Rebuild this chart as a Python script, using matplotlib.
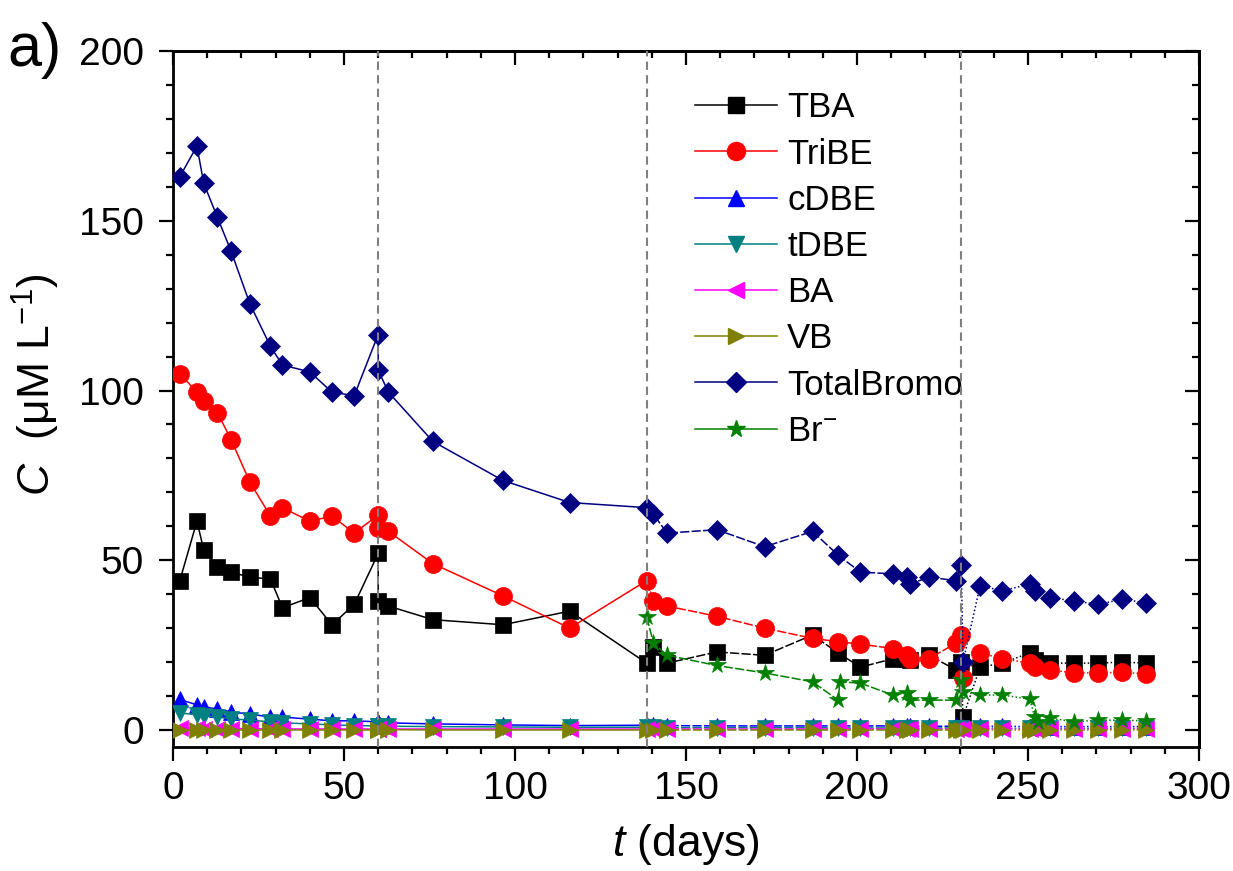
import matplotlib
matplotlib.use('Agg')
import matplotlib.pyplot as plt
from matplotlib.lines import Line2D
from matplotlib.ticker import MultipleLocator

plt.rcParams['font.family'] = ['Liberation Sans', 'DejaVu Sans']
plt.rcParams['mathtext.fontset'] = 'custom'
plt.rcParams['mathtext.rm'] = 'Liberation Sans'
plt.rcParams['mathtext.it'] = 'Liberation Sans:italic'
plt.rcParams['mathtext.bf'] = 'Liberation Sans:bold'

# ---------------- data ----------------
t_main = [2, 7, 9, 13, 17, 22.5, 28.5, 32, 40, 46.5,
          53, 60, 60, 63, 76, 96.5, 116, 138.5, 140.5, 144.5,
          159, 173, 187, 194.5, 201, 210.5, 214.5, 215.5, 221, 229,
          230.5, 231, 236, 242.5, 250.5, 252, 256.5, 263.5, 270.5, 277.5,
          284.5]

tba = [44, 61.5, 53, 48, 46.5, 45, 44.5, 36, 39, 31,
       37, 52, 38, 36.5, 32.5, 31, 35, 19.7, 24.5, 19.7,
       23, 22, 28, 22.7, 18.5, 21, 21, 20.5, 22, 17.7,
       20, 3.8, 18.5, 19.7, 22.7, 20.6, 19.7, 19.7, 19.7, 20,
       19.7]

tribe = [105, 99.5, 97, 93.5, 85.5, 73, 63, 65.5, 61.5, 63,
         58, 63.3, 59.5, 58.5, 49, 39.5, 30, 44, 38, 36.5,
         33.5, 30, 27, 26, 25.3, 24, 22, 21, 21, 25.6,
         28, 15.3, 22.7, 21, 19.7, 18.5, 17.7, 16.8, 16.8, 17,
         16.5]

cdbe = [9.0, 7.4, 6.8, 6.2, 5.3, 4.7, 3.8, 3.8, 3.2, 2.7,
        2.7, 2.4, 2.4, 2.1, 1.8, 1.5, 1.3, 1.4, 1.4, 1.3,
        1.2, 1.2, 1.2, 1.2, 1.2, 1.2, 1.2, 1.1, 1.1, 1.1,
        1.1, 0.8, 1.1, 1.1, 1.0, 1.0, 1.0, 1.0, 1.0, 1.0,
        1.0]

tdbe = [5.0, 4.5, 4.2, 3.8, 3.3, 2.9, 2.4, 2.1, 1.8, 1.5,
        1.3, 1.2, 1.1, 1.1, 1.0, 0.9, 0.8, 0.8, 0.8, 0.7,
        0.7, 0.7, 0.7, 0.6, 0.6, 0.6, 0.6, 0.6, 0.6, 0.6,
        0.6, 0.4, 0.6, 0.5, 0.5, 0.5, 0.5, 0.5, 0.5, 0.5,
        0.5]

ba = [0.5, 0.5, 0.4, 0.4, 0.4, 0.4, 0.3, 0.3, 0.3, 0.3,
      0.3, 0.3, 0.3, 0.3, 0.3, 0.3, 0.3, 0.3, 0.3, 0.3,
      0.3, 0.3, 0.3, 0.3, 0.3, 0.3, 0.3, 0.3, 0.3, 0.3,
      0.3, 0.2, 0.3, 0.3, 0.3, 0.3, 0.3, 0.3, 0.3, 0.3,
      0.3]

vb = [0.1, 0.1, 0.1, 0.1, 0.1, 0.1, 0.1, 0.1, 0.1, 0.1,
      0.1, 0.1, 0.1, 0.1, 0.0, 0.0, 0.0, 0.0, 0.0, 0.0,
      0.0, 0.0, 0.0, 0.0, 0.0, 0.0, 0.0, 0.0, 0.0, 0.0,
      0.0, 0.0, 0.0, 0.0, 0.0, 0.0, 0.0, 0.0, 0.0, 0.0,
      0.0]

total_bromo = [163, 172, 161, 151, 141, 125.5, 113, 107.5, 105.5, 99.5,
               98.5, 116.5, 106, 99.5, 85, 73.5, 67, 65.5, 63.5, 58,
               59, 54, 58.5, 51.5, 46.5, 46, 45, 43, 45, 44,
               48.5, 20, 42.5, 41, 43, 41, 39, 38, 37, 38.5,
               37.5]

t_br = [138.5, 140.5, 144.5, 159, 173, 187, 194.5, 195, 201, 210.5,
        214.5, 215.5, 221, 229, 230.5, 231, 236, 242.5, 250.5, 252,
        253, 256.5, 263.5, 270.5, 277.5, 284.5]
br = [33.3, 25.6, 22, 19, 16.8, 14.2, 8.8, 14.2, 13.8, 10.3,
      11, 8.8, 8.8, 8.8, 14.7, 11.2, 10.3, 10.3, 9.1, 3.8,
      2.4, 3.5, 2.4, 2.9, 2.9, 2.7]

phase_days = [60, 138.5, 230.5]
labels = ['TBA', 'TriBE', 'cDBE', 'tDBE', 'BA', 'VB', 'TotalBromo', r'Br$^{-}$']
colors = ['#000000', '#ff0000', '#0000ff', '#008080', '#ff00ff', '#808000', '#000080', '#008000']
markers = ['s', 'o', '^', 'v', '<', '>', 'D', '*']
msizes = [11, 13, 11, 11, 11, 11, 10.5, 13]
series = [(t_main, tba), (t_main, tribe), (t_main, cdbe), (t_main, tdbe),
          (t_main, ba), (t_main, vb), (t_main, total_bromo), (t_br, br)]

phase_styles = ['-', '-', (0, (6, 1.5)), (0, (1, 1.5))]

# ---------------- figure ----------------
fig = plt.figure(figsize=(12.33, 8.71), dpi=100)
ax = fig.add_axes([0.1403, 0.1424, 0.8321, 0.7990])


def draw_series(t, v, color, marker, ms, z):
    n = len(t)
    seg_phase = [sum(1 for b in phase_days if b < t[i + 1]) for i in range(n - 1)]
    i = 0
    while i < n - 1:
        j = i
        while j + 1 < n - 1 and seg_phase[j + 1] == seg_phase[i]:
            j += 1
        ax.plot(t[i:j + 2], v[i:j + 2], color=color, lw=1.1,
                ls=phase_styles[seg_phase[i]], zorder=z)
        i = j + 1
    ax.plot(t, v, ls='none', marker=marker, ms=ms, color=color,
            mec=color, mew=0.5, zorder=z + 0.5)


for k, ((t, v), c, m, ms) in enumerate(zip(series, colors, markers, msizes)):
    draw_series(t, v, c, m, ms, 2 + k)

for d in phase_days:
    ax.axvline(d, color='#808080', lw=1.5, ls=(0, (4, 2.5)), zorder=20)

ax.set_xlim(0, 300)
ax.set_ylim(-5, 200)
ax.xaxis.set_major_locator(MultipleLocator(50))
ax.xaxis.set_minor_locator(MultipleLocator(10))
ax.yaxis.set_major_locator(MultipleLocator(50))
ax.yaxis.set_minor_locator(MultipleLocator(10))

for s in ax.spines.values():
    s.set_linewidth(2.0)

ax.tick_params(which='both', direction='out', top=False, right=False, width=1.6)
ax.tick_params(which='major', length=10, labelsize=28)
ax.tick_params(which='minor', length=5)
ax.tick_params(axis='x', which='major', pad=7)
ax.tick_params(axis='y', which='major', pad=11)

# mirrored inward ticks on top/right
sec_x = ax.secondary_xaxis('top')
sec_x.xaxis.set_major_locator(MultipleLocator(50))
sec_x.xaxis.set_minor_locator(MultipleLocator(10))
sec_x.tick_params(which='both', direction='in', labeltop=False, width=1.6)
sec_x.tick_params(which='major', length=10)
sec_x.tick_params(which='minor', length=5)
sec_x.spines['top'].set_linewidth(2.0)
sec_y = ax.secondary_yaxis('right')
sec_y.yaxis.set_major_locator(MultipleLocator(50))
sec_y.yaxis.set_minor_locator(MultipleLocator(10))
sec_y.tick_params(which='both', direction='in', labelright=False, width=1.6)
sec_y.tick_params(which='major', length=10)
sec_y.tick_params(which='minor', length=5)
sec_y.spines['right'].set_linewidth(2.0)

ax.set_xlabel(r'$t$ (days)', fontsize=32)
ax.set_ylabel(r'$C$  (μM L$^{-1}$)', fontsize=32)
ax.xaxis.set_label_coords(0.5, -0.108)
ax.yaxis.set_label_coords(-0.108, 0.52)

fig.text(0.006, 1 - 66 / 871, 'a)', fontsize=44, va='baseline', ha='left')

handles = [Line2D([], [], color=c, marker=m, ms=ms, lw=1.1, mec=c)
           for c, m, ms in zip(colors, markers, msizes)]
leg = ax.legend(handles, labels, loc='upper left', bbox_to_anchor=(0.509, 0.942),
                frameon=False, fontsize=25, handlelength=2.35, handletextpad=0.3,
                labelspacing=0.38, borderpad=0, borderaxespad=0)

fig.savefig('out.png', dpi=100)
